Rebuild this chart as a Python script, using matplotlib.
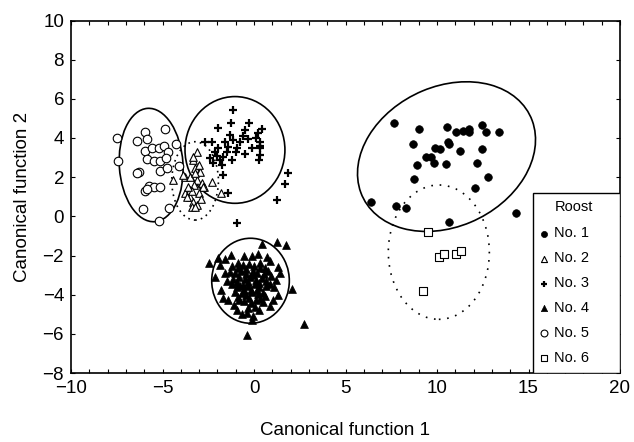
import matplotlib
matplotlib.use("Agg")
import matplotlib.pyplot as plt
from matplotlib.patches import Ellipse, Rectangle
from matplotlib.ticker import MultipleLocator

plt.rcParams['font.family'] = ['Liberation Sans', 'DejaVu Sans']

# No. 1 - filled circles
r1_x = [7.67, 9.02, 10.53, 11.04, 11.44, 11.75, 11.75, 12.48, 12.66, 13.37,
        8.69, 9.91, 10.16, 10.60, 10.64, 11.25, 12.46, 9.39, 9.69, 9.84,
        8.92, 10.48, 12.16, 8.74, 12.80, 12.06, 6.37, 7.78, 8.30, 10.66, 14.30]
r1_y = [4.75, 4.48, 4.55, 4.29, 4.37, 4.46, 4.29, 4.66, 4.32, 4.32,
        3.69, 3.50, 3.45, 3.81, 3.68, 3.35, 3.45, 3.01, 3.01, 2.71,
        2.62, 2.66, 2.72, 1.90, 2.01, 1.44, 0.74, 0.52, 0.44, -0.31, 0.15]

# No. 2 - open triangles
r2_x = [-3.13, -3.31, -3.22, -2.95, -3.77, -3.47, -3.13, -2.86, -2.72, -2.31,
        -1.82, -3.77, -3.50, -3.31, -3.13, -3.40, -4.42, -3.90, -3.50, -3.22,
        -2.77, -3.68, -3.30, -3.40, -3.00, -3.20, -3.00, -3.35, -3.60, -2.90]
r2_y = [3.30, 2.88, 2.45, 2.28, 2.02, 2.02, 1.85, 1.68, 1.48, 1.74,
        1.20, 1.17, 1.00, 0.74, 0.57, 0.49, 1.85, 2.10, 1.34, 0.49,
        1.51, 1.00, 1.60, 1.30, 1.20, 2.20, 2.60, 3.05, 1.50, 0.90]

# No. 3 - plus
r3_x = [-1.13, -1.26, -0.27, -1.95, -0.49, 0.42, 0.23, -1.31, -2.68, -2.31,
        -1.58, -1.13, -0.77, -0.31, 0.33, -1.95, -1.40, -0.95, -0.13, 0.33,
        -2.13, -1.68, -2.40, -1.86, 0.33, -2.22, -1.77, -1.68, 1.87, 1.69,
        -1.40, 1.28, -0.92, -0.60, -1.00, -0.50, 0.10, 0.35, -1.50, -2.00,
        -1.20, 0.30]
r3_y = [5.43, 4.75, 4.75, 4.50, 4.41, 4.44, 4.24, 4.15, 3.81, 3.81,
        3.81, 3.90, 3.81, 3.93, 3.81, 3.47, 3.56, 3.47, 3.47, 3.47,
        3.30, 3.04, 2.96, 2.88, 3.13, 2.71, 2.62, 2.11, 2.23, 1.65,
        1.17, 0.83, -0.36, 4.10, 3.30, 3.20, 4.00, 3.60, 3.30, 3.10,
        2.90, 2.90]

# No. 4 - filled triangles
r4_x = [-2.44, -1.95, -1.60, -1.25, -0.55, -0.13, 0.20, 0.70, 0.90, 1.30,
        1.40, 1.20, 1.10, 1.30, 1.05, 0.85, 0.50, 0.30, -0.05, -0.40,
        -0.65, -0.95, -1.40, -1.70, -1.80, -2.15, -1.60, -1.85,
        0.42, 1.28, 1.75, 2.05, 2.73, -0.37, -0.13,
        -1.20, -0.90, -0.62, -0.28, 0.02, 0.33, 0.61,
        -1.32, -1.04, -0.71, -0.43, -0.08, 0.18, 0.52, 0.79,
        -1.13, -0.82, -0.47, -0.22, 0.12, 0.41, 0.68,
        -1.22, -0.93, -0.58, -0.31, 0.04, 0.27, 0.63, 0.88,
        -1.02, -0.68, -0.41, -0.12, 0.21, 0.48,
        -0.83, -0.52, -0.18, 0.09, -0.33, 0.03,
        -0.85, -0.45, -0.05, 0.35, -0.95, -0.35, 0.25, -0.55, -0.15, 0.15,
        -0.85, -0.25, 0.35, -1.45, -0.75, 0.60, -1.10, 0.95]
r4_y = [-2.37, -2.15, -2.20, -1.95, -2.05, -2.00, -1.90, -2.10, -2.30, -2.60,
        -2.90, -3.25, -3.60, -4.00, -4.25, -4.60, -4.35, -4.80, -5.10, -4.95,
        -5.00, -4.80, -4.25, -4.15, -3.75, -3.10, -2.90, -2.50,
        -1.42, -1.30, -1.47, -3.72, -5.51, -6.07, -5.27,
        -2.52, -2.38, -2.47, -2.43, -2.55, -2.36, -2.62,
        -2.82, -2.91, -2.78, -2.93, -2.81, -2.88, -2.95, -2.77,
        -3.22, -3.08, -3.18, -3.12, -3.24, -3.17, -3.31,
        -3.48, -3.62, -3.52, -3.58, -3.47, -3.63, -3.55, -3.46,
        -3.88, -3.93, -4.02, -3.87, -3.98, -3.91,
        -4.28, -4.33, -4.41, -4.27, -4.68, -4.62,
        -2.65, -2.67, -3.00, -2.66, -3.35, -3.36, -3.40, -3.75, -3.74, -3.77,
        -4.10, -4.15, -4.20, -3.30, -3.55, -4.05, -4.55, -3.05]

# No. 5 - open circles
r5_x = [-7.47, -7.42, -6.42, -5.96, -5.83, -4.85, -4.26, -5.97, -5.58, -5.21,
        -4.93, -4.69, -5.83, -5.49, -5.13, -4.83, -5.13, -4.74, -6.31, -6.38,
        -4.08, -5.97, -5.72, -5.47, -5.13, -5.86, -6.08, -4.66, -5.19]
r5_y = [4.02, 2.82, 3.86, 4.29, 3.95, 4.46, 3.71, 3.34, 3.50, 3.47,
        3.61, 3.30, 2.91, 2.82, 2.82, 2.96, 2.30, 2.48, 2.28, 2.19,
        2.57, 1.29, 1.55, 1.51, 1.48, 1.38, 0.37, 0.41, -0.23]

# No. 6 - open squares
r6_x = [9.49, 10.09, 10.40, 11.02, 11.32, 9.25]
r6_y = [-0.81, -2.10, -1.93, -1.93, -1.76, -3.79]

# ellipses: center x, center y, width, height, angle, linestyle
ell_cx = [10.52, -3.22, -1.04, -0.19, -5.62, 10.10]
ell_cy = [3.05, 1.81, 3.39, -3.29, 2.62, -1.83]
ell_w = [10.06, 2.55, 5.46, 4.24, 3.48, 5.52]
ell_h = [7.20, 4.00, 5.45, 4.34, 5.80, 6.86]
ell_ang = [21.4, 0, 0, 0, 4, 0]
ell_ls = ['-', (0, (1, 2.5)), '-', '-', '-', (0, (1, 4))]

xticks = [-10, -5, 0, 5, 10, 15, 20]
xtick_labels = ['\u221210', '\u22125', '0', '5', '10', '15', '20']
yticks = [-8, -6, -4, -2, 0, 2, 4, 6, 8, 10]
ytick_labels = ['\u22128', '\u22126', '\u22124', '\u22122', '0', '2', '4', '6', '8', '10']

fig, ax = plt.subplots(figsize=(6.34, 4.42), dpi=100)
fig.subplots_adjust(left=71 / 634, right=620 / 634, top=1 - 20.5 / 442, bottom=1 - 373 / 442)

ax.scatter(r1_x, r1_y, s=30, marker='o', c='black', edgecolors='black', linewidths=0.5, label='No. 1', zorder=3)
ax.scatter(r2_x, r2_y, s=30, marker='^', c='white', edgecolors='black', linewidths=0.8, label='No. 2', zorder=3)
ax.scatter(r3_x, r3_y, s=28, marker='+', c='black', linewidths=1.6, label='No. 3', zorder=3)
ax.scatter(r4_x, r4_y, s=32, marker='^', c='black', edgecolors='black', linewidths=0.5, label='No. 4', zorder=3)
ax.scatter(r5_x, r5_y, s=38, marker='o', c='white', edgecolors='black', linewidths=0.8, label='No. 5', zorder=3)
ax.scatter(r6_x, r6_y, s=34, marker='s', c='white', edgecolors='black', linewidths=0.8, label='No. 6', zorder=3)

for i in range(len(ell_cx)):
    e = Ellipse((ell_cx[i], ell_cy[i]), ell_w[i], ell_h[i], angle=ell_ang[i],
                fill=False, edgecolor='black', linewidth=1.2, linestyle=ell_ls[i], zorder=2)
    ax.add_patch(e)

ax.set_xlim(-10, 20)
ax.set_ylim(-8, 10)
ax.set_xticks(xticks)
ax.set_xticklabels(xtick_labels)
ax.xaxis.set_minor_locator(MultipleLocator(1))
ax.set_yticks(yticks)
ax.set_yticklabels(ytick_labels)
ax.tick_params(which='both', direction='in', top=True, right=True, length=3, width=0.8, labelsize=13.5)
ax.tick_params(axis='x', pad=5)
ax.tick_params(axis='y', pad=5)
for sp in ax.spines.values():
    sp.set_linewidth(1.2)

ax.set_xlabel('Canonical function 1', fontsize=13.5, labelpad=18)
ax.set_ylabel('Canonical function 2', fontsize=13.5, labelpad=8)

# legend box drawn separately (wider than its contents)
box = Rectangle((0.8415, 0.0), 0.1585, 0.511, transform=ax.transAxes, fill=True,
                facecolor='white', edgecolor='black', linewidth=1.0, zorder=4)
ax.add_patch(box)
ax.text(0.917, 0.472, 'Roost', transform=ax.transAxes, ha='center', va='center',
        fontsize=10.5, zorder=6)
leg = ax.legend(loc='upper left', bbox_to_anchor=(0.843, 0.424), borderaxespad=0,
                fontsize=10.5, frameon=False, handletextpad=0.2, handlelength=1.0,
                labelspacing=0.75, borderpad=0.2, markerscale=0.8)
leg.set_zorder(5)

plt.savefig('out.png', dpi=100)
